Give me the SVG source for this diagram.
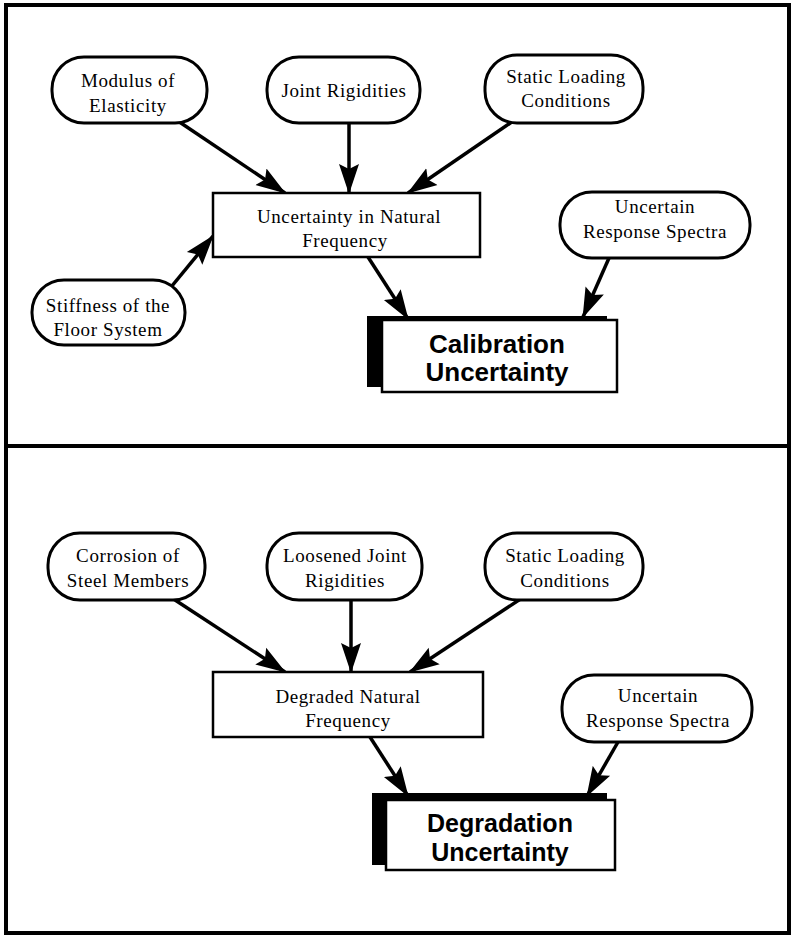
<svg xmlns="http://www.w3.org/2000/svg" width="796" height="938" viewBox="0 0 796 938">
  <style>
    .pill { fill: #fff; stroke: #000; stroke-width: 3; }
    .box { fill: #fff; stroke: #000; stroke-width: 2.5; }
    .label { font-family: "Liberation Serif", "Times New Roman", serif; font-size: 19px; letter-spacing: 0.6px; text-anchor: middle; fill: #000; }
    .title { font-family: "Liberation Sans", Arial, sans-serif; font-weight: bold; font-size: 26px; text-anchor: middle; fill: #000; }
    .title2 { font-family: "Liberation Sans", Arial, sans-serif; font-weight: bold; font-size: 25px; text-anchor: middle; fill: #000; }
    .edge { stroke: #000; stroke-width: 3.5; fill: none; marker-end: url(#head); }
  </style>
  <defs>
    <marker id="head" markerUnits="userSpaceOnUse" markerWidth="30" markerHeight="22" refX="29" refY="11" orient="auto">
      <path d="M0,1 L30,11 L0,21 L5,11 Z" fill="#000"/>
    </marker>
  </defs>

  <rect width="796" height="938" fill="#fff"/>

  <!-- outer frame and panel divider -->
  <rect x="6" y="5" width="783" height="928" fill="none" stroke="#000" stroke-width="4"/>
  <line x1="6" y1="446" x2="789" y2="446" stroke="#000" stroke-width="4"/>

  <!-- connectors -->
  <g id="connectors">
    <line class="edge" x1="172" y1="117" x2="285" y2="193"/>
    <line class="edge" x1="349" y1="115" x2="349" y2="193"/>
    <line class="edge" x1="522" y1="115" x2="408" y2="193"/>
    <line class="edge" x1="167" y1="292" x2="213" y2="236"/>
    <line class="edge" x1="368" y1="257" x2="408" y2="319"/>
    <line class="edge" x1="609" y1="258" x2="583" y2="317"/>

    <line class="edge" x1="172" y1="598" x2="285" y2="672"/>
    <line class="edge" x1="351" y1="598" x2="351" y2="672"/>
    <line class="edge" x1="522" y1="598" x2="410" y2="672"/>
    <line class="edge" x1="370" y1="737" x2="408" y2="796"/>
    <line class="edge" x1="618" y1="742" x2="587" y2="796"/>
  </g>

  <!-- upper panel -->
  <g id="modulus">
    <rect class="pill" x="52" y="57" width="155" height="66" rx="32" ry="32"/>
    <text class="label" x="128" y="87">Modulus of</text>
    <text class="label" x="128" y="112">Elasticity</text>
  </g>
  <g id="joint-rigidities">
    <rect class="pill" x="267" y="57" width="153" height="66" rx="32" ry="32"/>
    <text class="label" x="344" y="97">Joint Rigidities</text>
  </g>
  <g id="static-loading-1">
    <rect class="pill" x="485" y="55" width="158" height="68" rx="32" ry="32"/>
    <text class="label" x="566" y="83">Static Loading</text>
    <text class="label" x="566" y="107">Conditions</text>
  </g>
  <g id="natural-frequency">
    <rect class="box" x="213" y="193" width="267" height="64"/>
    <text class="label" x="349" y="223">Uncertainty in Natural</text>
    <text class="label" x="345" y="247">Frequency</text>
  </g>
  <g id="response-spectra-1">
    <rect class="pill" x="560" y="192" width="190" height="66" rx="32" ry="32"/>
    <text class="label" x="655" y="213">Uncertain</text>
    <text class="label" x="655" y="238">Response Spectra</text>
  </g>
  <g id="floor-stiffness">
    <rect class="pill" x="32" y="280" width="153" height="65" rx="32" ry="32"/>
    <text class="label" x="108" y="312">Stiffness of the</text>
    <text class="label" x="108" y="336">Floor System</text>
  </g>
  <g id="calibration">
    <rect x="367" y="316" width="240" height="71" fill="#000"/>
    <rect class="box" x="382" y="320" width="235" height="72"/>
    <text class="title" x="497" y="353">Calibration</text>
    <text class="title" x="497" y="381">Uncertainty</text>
  </g>

  <!-- lower panel -->
  <g id="corrosion">
    <rect class="pill" x="48" y="533" width="157" height="67" rx="32" ry="32"/>
    <text class="label" x="128" y="562">Corrosion of</text>
    <text class="label" x="128" y="587">Steel Members</text>
  </g>
  <g id="loosened-joints">
    <rect class="pill" x="267" y="533" width="155" height="67" rx="32" ry="32"/>
    <text class="label" x="345" y="562">Loosened Joint</text>
    <text class="label" x="345" y="587">Rigidities</text>
  </g>
  <g id="static-loading-2">
    <rect class="pill" x="485" y="533" width="158" height="67" rx="32" ry="32"/>
    <text class="label" x="565" y="562">Static Loading</text>
    <text class="label" x="565" y="587">Conditions</text>
  </g>
  <g id="degraded-frequency">
    <rect class="box" x="213" y="672" width="270" height="65"/>
    <text class="label" x="348" y="703">Degraded Natural</text>
    <text class="label" x="348" y="727">Frequency</text>
  </g>
  <g id="response-spectra-2">
    <rect class="pill" x="562" y="675" width="190" height="67" rx="32" ry="32"/>
    <text class="label" x="658" y="702">Uncertain</text>
    <text class="label" x="658" y="727">Response Spectra</text>
  </g>
  <g id="degradation">
    <rect x="372" y="793" width="235" height="72" fill="#000"/>
    <rect class="box" x="386" y="800" width="229" height="70"/>
    <text class="title2" x="500" y="832">Degradation</text>
    <text class="title2" x="500" y="861">Uncertainty</text>
  </g>
</svg>
